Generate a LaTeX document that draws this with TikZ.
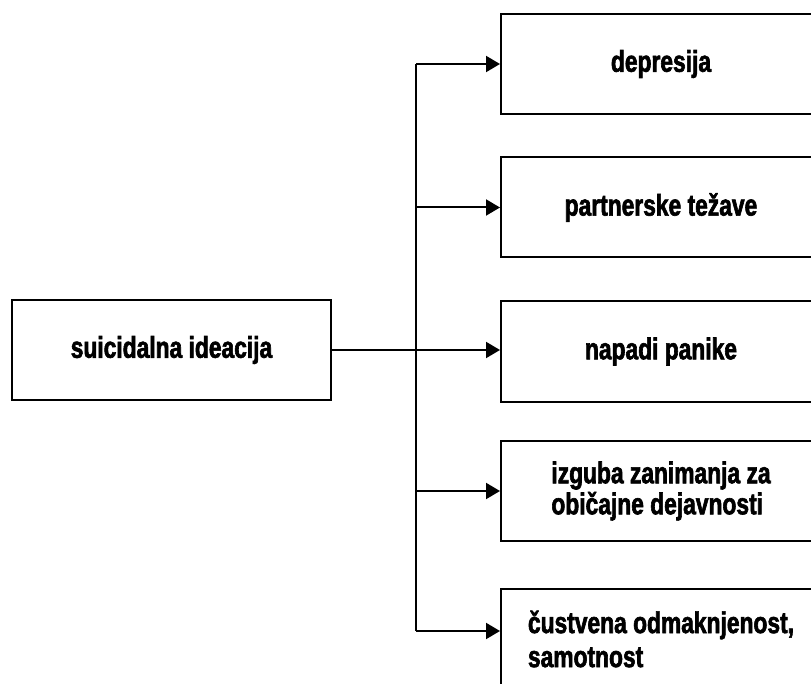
\documentclass[tikz,border=0pt]{standalone}
\usepackage{fontspec}
\usepackage{tikz}
\usetikzlibrary{positioning, arrows.meta, calc}
\newfontfamily\boxfont{Liberation Sans}[FakeStretch=0.76, FakeBold=2]

\begin{document}
\begin{tikzpicture}[
  x=1pt, y=-1pt,
  causebox/.style={draw=black, line width=2pt, fill=white, align=center, minimum width=319pt, minimum height=100pt, font=\boxfont\bfseries\fontsize{30}{29}\selectfont, inner sep=4pt},
  effectbox/.style={causebox, minimum width=320pt, align=left},
  arr/.style={-{Triangle[length=14pt, width=16pt]}, line width=2pt, black}
]
  \useasboundingbox (0, 0) rectangle (811, 684);

  \node[causebox] (ideacija) at (171.5, 350) {suicidalna ideacija};

  \node[effectbox] (depresija) at (661, 64) {depresija};
  \node[effectbox] (tezave) at (661, 207.5) {partnerske težave};
  \node[effectbox] (panika) at (661, 351.5) {napadi panike};
  \node[effectbox] (izguba) at (661, 491) {izguba zanimanja za\\[2pt]običajne dejavnosti};
  \node[effectbox] (odmik) at (661, 639) {čustvena odmaknjenost,\\[5pt]samotnost};

  % trunk of the fan-out
  \coordinate (split) at (416, 350);
  \coordinate (odmikin) at ([yshift=8pt]odmik.west);

  \draw[line width=2pt] (split |- depresija.west) -- (split |- odmikin);
  \draw[arr] (ideacija.east) -- (ideacija.east -| panika.west);
  \draw[arr] (split |- depresija.west) -- (depresija.west);
  \draw[arr] (split |- tezave.west) -- (tezave.west);
  \draw[arr] (split |- izguba.west) -- (izguba.west);
  \draw[arr] (split |- odmikin) -- (odmikin);
\end{tikzpicture}
\end{document}
